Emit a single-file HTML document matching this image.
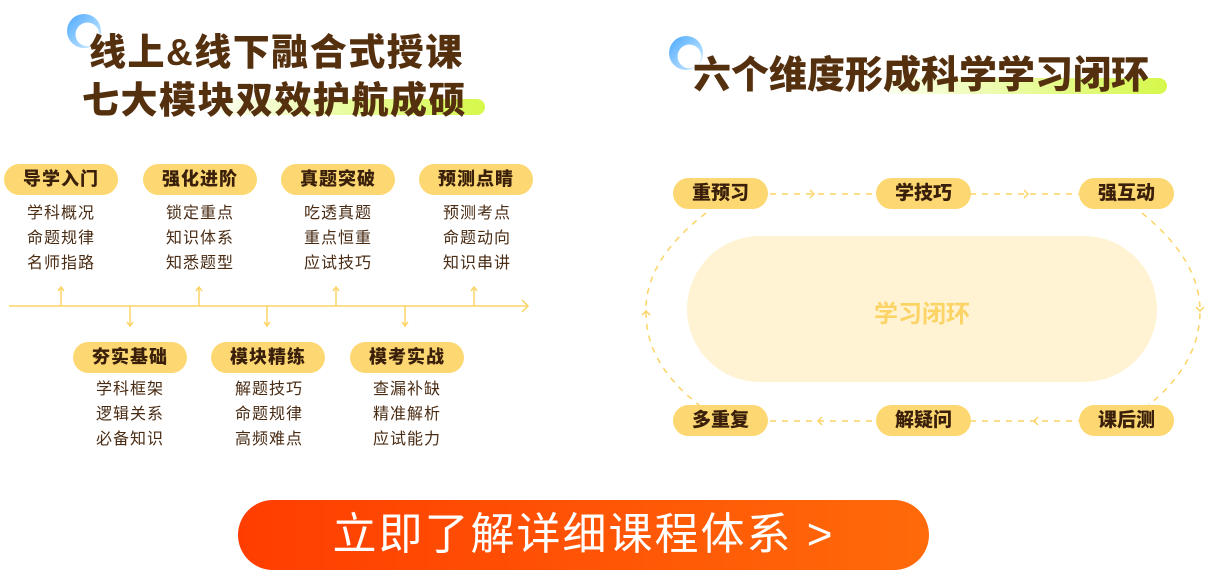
<!DOCTYPE html>
<html><head><meta charset="utf-8"><style>
*{margin:0;padding:0;box-sizing:border-box}
body{width:1208px;height:588px;background:#fff;position:relative;overflow:hidden;font-family:"Liberation Sans","Noto Sans CJK SC",sans-serif}
.a{position:absolute}
.t{color:#55300f;font-weight:900;font-size:37px;letter-spacing:1.5px;white-space:nowrap}
.p{position:absolute;height:31px;border-radius:16px;background:#fdd872;color:#3a200b;font-weight:900;font-size:18px;text-align:center;line-height:31px;letter-spacing:1px}
.l{position:absolute;width:110px;text-align:center;color:#4a2c14;font-size:16px;line-height:25px;letter-spacing:1px}
.r{position:absolute;width:95px;height:31px;border-radius:16px;background:#fdd872;color:#3a200b;font-weight:900;font-size:19px;text-align:center;line-height:31px}
</style></head><body>
<div class="a" style="left:67px;top:14px;width:34px;height:34px;border-radius:50%;background:radial-gradient(circle at 60% 60%,#fff 0 40%,transparent 42%),linear-gradient(135deg,#4aa8ff,#d8f0ff)"></div>
<div class="a" style="left:220px;top:99px;width:265px;height:16px;border-radius:8px;background:linear-gradient(90deg,rgba(240,255,200,.3),#d6f84a)"></div>
<div class="a t" style="left:89px;top:22px">线上&amp;线下融合式授课</div>
<div class="a t" style="left:82px;top:70px">七大模块双效护航成硕</div>

<div class="a" style="left:669px;top:36px;width:34px;height:34px;border-radius:50%;background:radial-gradient(circle at 60% 60%,#fff 0 40%,transparent 42%),linear-gradient(135deg,#4aa8ff,#d8f0ff)"></div>
<div class="a" style="left:885px;top:78px;width:282px;height:16px;border-radius:8px;background:linear-gradient(90deg,rgba(240,255,200,.3),#d6f84a)"></div>
<div class="a t" style="left:693px;top:44px;font-size:38px;letter-spacing:0">六个维度形成科学学习闭环</div>

<div class="p" style="left:4px;top:164px;width:114px">导学入门</div>
<div class="p" style="left:143px;top:164px;width:114px">强化进阶</div>
<div class="p" style="left:281px;top:164px;width:114px">真题突破</div>
<div class="p" style="left:419px;top:164px;width:114px">预测点睛</div>
<div class="l" style="left:6px;top:201px">学科概况<br>命题规律<br>名师指路</div>
<div class="l" style="left:145px;top:201px">锁定重点<br>知识体系<br>知悉题型</div>
<div class="l" style="left:283px;top:201px">吃透真题<br>重点恒重<br>应试技巧</div>
<div class="l" style="left:422px;top:201px">预测考点<br>命题动向<br>知识串讲</div>
<div class="p" style="left:73px;top:342px;width:114px">夯实基础</div>
<div class="p" style="left:211px;top:342px;width:114px">模块精练</div>
<div class="p" style="left:350px;top:342px;width:114px">模考实战</div>
<div class="l" style="left:75px;top:377px">学科框架<br>逻辑关系<br>必备知识</div>
<div class="l" style="left:214px;top:377px">解题技巧<br>命题规律<br>高频难点</div>
<div class="l" style="left:352px;top:377px">查漏补缺<br>精准解析<br>应试能力</div>

<svg class="a" style="left:0;top:0" width="1208" height="588">
<g stroke="#fcd466" stroke-width="1.5" fill="none">
<line x1="9" y1="306" x2="528" y2="306"/><polyline points="522,300 528,306 522,312"/>
<g>
<line x1="61" y1="306" x2="61" y2="287"/><polyline points="58,291 61,287 64,291"/>
<line x1="199" y1="306" x2="199" y2="287"/><polyline points="196,291 199,287 202,291"/>
<line x1="336" y1="306" x2="336" y2="287"/><polyline points="333,291 336,287 339,291"/>
<line x1="474" y1="306" x2="474" y2="287"/><polyline points="471,291 474,287 477,291"/>
<line x1="130" y1="306" x2="130" y2="326"/><polyline points="127,322 130,326 133,322"/>
<line x1="267" y1="306" x2="267" y2="326"/><polyline points="264,322 267,326 270,322"/>
<line x1="405" y1="306" x2="405" y2="326"/><polyline points="402,322 405,326 408,322"/>
</g>
<g stroke-dasharray="6,6">
<line x1="770" y1="194" x2="876" y2="194"/>
<line x1="970" y1="194" x2="1080" y2="194"/>
<line x1="770" y1="421" x2="876" y2="421"/>
<line x1="970" y1="421" x2="1080" y2="421"/>
<path d="M706 213 Q645 260 646 311 Q645 365 703 408"/>
<path d="M1142 213 Q1200 260 1200 311 Q1200 365 1145 408"/>
</g>
<polyline points="810,190 814,194 810,198"/><polyline points="1024,190 1028,194 1024,198"/>
<polyline points="822,417 818,421 822,425"/><polyline points="1038,417 1034,421 1038,425"/>
<polyline points="642,315 646,311 650,315"/><polyline points="1196,307 1200,311 1204,307"/>
</g>
</svg>
<div class="a" style="left:687px;top:236px;width:470px;height:146px;border-radius:73px;background:#fff3d4"></div>
<div class="a" style="left:687px;top:294px;width:470px;text-align:center;color:#fcd466;font-weight:700;font-size:24px">学习闭环</div>
<div class="r" style="left:673px;top:178px">重预习</div>
<div class="r" style="left:876px;top:178px">学技巧</div>
<div class="r" style="left:1079px;top:178px">强互动</div>
<div class="r" style="left:673px;top:405px">多重复</div>
<div class="r" style="left:876px;top:405px">解疑问</div>
<div class="r" style="left:1079px;top:405px">课后测</div>

<div class="a" style="left:238px;top:500px;width:691px;height:70px;border-radius:35px;background:linear-gradient(90deg,#ff3d00,#ff6a0a);color:#fff;font-size:44px;text-align:center;line-height:70px;letter-spacing:2px">立即了解详细课程体系 &gt;</div>
</body></html>
